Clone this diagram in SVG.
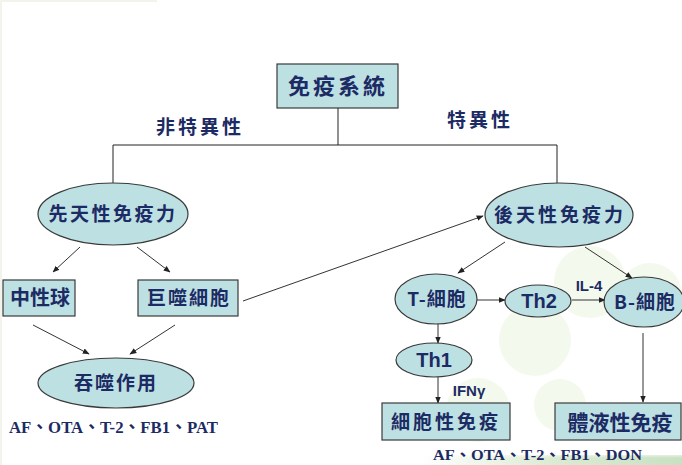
<svg xmlns="http://www.w3.org/2000/svg" width="682" height="465" viewBox="0 0 682 465">
<defs>
<marker id="ah" viewBox="0 0 10 10" refX="9" refY="5" markerWidth="7" markerHeight="7" orient="auto" markerUnits="userSpaceOnUse">
<path d="M0,1 L10,5 L0,9 Z" fill="#222"/>
</marker>
<linearGradient id="strip" x1="0" y1="0" x2="1" y2="0">
<stop offset="0" stop-color="#ffffff"/>
<stop offset="0.5" stop-color="#dcebd3"/>
<stop offset="1" stop-color="#c9e1c3"/>
</linearGradient>
<linearGradient id="stripv" x1="0" y1="0" x2="0" y2="1">
<stop offset="0" stop-color="#ffffff" stop-opacity="1"/>
<stop offset="1" stop-color="#ffffff" stop-opacity="0"/>
</linearGradient>
</defs>
<style>
.node{fill:#bde0e3;stroke:#3a3a3a;stroke-width:1.2}
.zh{font-family:"Noto Sans CJK TC","Noto Sans CJK SC",sans-serif;font-weight:700;fill:#1c2b63;text-anchor:middle}
.lat{font-family:"Liberation Sans",Arial,sans-serif;font-weight:700;fill:#1c2b63;text-anchor:middle}
.ser{font-family:"Liberation Serif","Noto Sans CJK TC",serif;font-weight:700;fill:#1c2b63}
.ln{stroke:#222;stroke-width:1;fill:none}
.arr{stroke:#333;stroke-width:1;fill:none;marker-end:url(#ah)}
</style>
<!-- background -->
<rect x="0" y="0" width="682" height="465" fill="#ffffff"/>
<rect x="0" y="0" width="157" height="2" fill="#f2f3ea"/>
<rect x="0" y="0" width="2" height="465" fill="#f2f3ea"/>
<g id="bg-deco" fill="#f4f9ee">
<circle cx="590" cy="282" r="36"/>
<circle cx="650" cy="295" r="32"/>
<circle cx="535" cy="340" r="36"/>
<circle cx="478" cy="410" r="32"/>
<circle cx="560" cy="405" r="26"/>
</g>
<rect x="420" y="455" width="262" height="10" fill="url(#strip)"/>
<rect x="420" y="452" width="262" height="6" fill="url(#stripv)"/>
<!-- connectors -->
<g id="connectors">
<path class="ln" d="M338,108 V145 M113,145 H557 M113,145 V183 M557,145 V183"/>
<line class="arr" x1="80" y1="247" x2="53" y2="272"/>
<line class="arr" x1="137" y1="247" x2="170" y2="272"/>
<line class="arr" x1="243" y1="301" x2="483" y2="216"/>
<line class="arr" x1="33" y1="325" x2="89" y2="354"/>
<line class="arr" x1="175" y1="325" x2="130" y2="354"/>
<line class="arr" x1="505" y1="242" x2="458" y2="273"/>
<line class="arr" x1="585" y1="247" x2="632" y2="278"/>
<line class="arr" x1="477" y1="300" x2="505" y2="300"/>
<line class="arr" x1="572" y1="300" x2="605" y2="300"/>
<line class="arr" x1="438" y1="323" x2="438" y2="343"/>
<line class="arr" x1="438" y1="377" x2="438" y2="403"/>
<line class="arr" x1="643" y1="333" x2="643" y2="402"/>
</g>
<!-- nodes -->
<g id="n-immune">
<rect class="node" x="277" y="64" width="121" height="44"/>
<text class="zh" x="338" y="94" font-size="22" letter-spacing="3">免疫系統</text>
</g>
<g id="lbl-nonspecific"><text class="zh" x="200" y="134" font-size="19" letter-spacing="3">非特異性</text></g>
<g id="lbl-specific"><text class="zh" x="480" y="127" font-size="19" letter-spacing="3">特異性</text></g>
<g id="n-innate">
<ellipse class="node" cx="113" cy="214" rx="75" ry="31"/>
<text class="zh" x="113" y="221" font-size="19" letter-spacing="2.5">先天性免疫力</text>
</g>
<g id="n-acquired">
<ellipse class="node" cx="559" cy="215" rx="74" ry="32"/>
<text class="zh" x="560" y="222" font-size="19" letter-spacing="3">後天性免疫力</text>
</g>
<g id="n-neutrophil">
<rect class="node" x="3" y="280" width="72" height="36"/>
<text class="zh" x="40" y="305" font-size="20">中性球</text>
</g>
<g id="n-macrophage">
<rect class="node" x="138" y="280" width="100" height="36"/>
<text class="zh" x="189" y="305" font-size="19" letter-spacing="2">巨噬細胞</text>
</g>
<g id="n-phago">
<ellipse class="node" cx="116" cy="383" rx="78" ry="25"/>
<text class="zh" x="116" y="390" font-size="19" letter-spacing="2">吞噬作用</text>
</g>
<g id="lbl-toxins-left"><text class="ser" x="9" y="433" font-size="17" textLength="209" lengthAdjust="spacingAndGlyphs">AF、OTA、T-2、FB1、PAT</text></g>
<g id="n-tcell">
<ellipse class="node" cx="436" cy="299" rx="41" ry="25"/>
<text class="zh" x="437" y="306" font-size="19" letter-spacing="1">T-細胞</text>
</g>
<g id="n-th2">
<ellipse class="node" cx="538" cy="301" rx="33" ry="16"/>
<text class="lat" x="539" y="308" font-size="20">Th2</text>
</g>
<g id="n-bcell">
<ellipse class="node" cx="644" cy="302" rx="40" ry="25"/>
<text class="zh" x="645" y="309" font-size="19" letter-spacing="1">B-細胞</text>
</g>
<g id="n-th1">
<ellipse class="node" cx="434" cy="360" rx="38" ry="17"/>
<text class="lat" x="434" y="367" font-size="20">Th1</text>
</g>
<g id="lbl-il4"><text class="lat" x="589" y="291" font-size="15">IL-4</text></g>
<g id="lbl-ifn"><text class="lat" x="469" y="396" font-size="15">IFNγ</text></g>
<g id="n-cellular">
<rect class="node" x="382" y="403" width="128" height="37"/>
<text class="zh" x="446" y="429" font-size="19" letter-spacing="3">細胞性免疫</text>
</g>
<g id="n-humoral">
<rect class="node" x="555" y="403" width="126" height="37"/>
<text class="zh" x="620" y="430" font-size="21">體液性免疫</text>
</g>
<g id="lbl-toxins-right"><text class="ser" x="433" y="460" font-size="15" textLength="209" lengthAdjust="spacingAndGlyphs">AF、OTA、T-2、FB1、DON</text></g>
</svg>
